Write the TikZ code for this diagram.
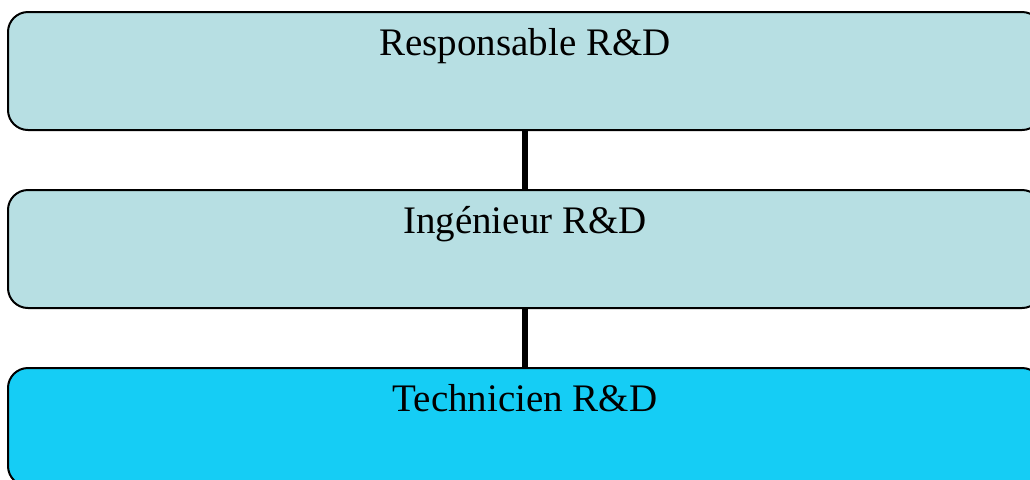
\documentclass[tikz,border=0pt]{standalone}
\usepackage{fontspec}
\setmainfont{Liberation Serif}
\usepackage{xcolor}
\usepackage{tikz}
\definecolor{paleblue}{HTML}{B7DFE3}
\definecolor{brightblue}{HTML}{15CDF5}

\begin{document}
\begin{tikzpicture}[x=0.5pt, y=-0.5pt,
	rolebox/.style={font=\fontsize{19.5}{23}\selectfont, draw, line width=1pt, rounded corners=10pt, minimum width=517pt, minimum height=59pt, text height=21.5pt, text depth=37.5pt, inner sep=0, align=center},
	link/.style={line width=3pt}
]
\useasboundingbox (0,0) rectangle (1030,479);
\node[rolebox, fill=paleblue] (resp) at (525, 71) {Responsable R\&D};
\node[rolebox, fill=paleblue] (ing) at (525, 249) {Ingénieur R\&D};
\node[rolebox, fill=brightblue] (tech) at (525, 427) {Technicien R\&D};

\draw[link] (resp) -- (ing);
\draw[link] (ing) -- (tech);
\end{tikzpicture}
\end{document}
